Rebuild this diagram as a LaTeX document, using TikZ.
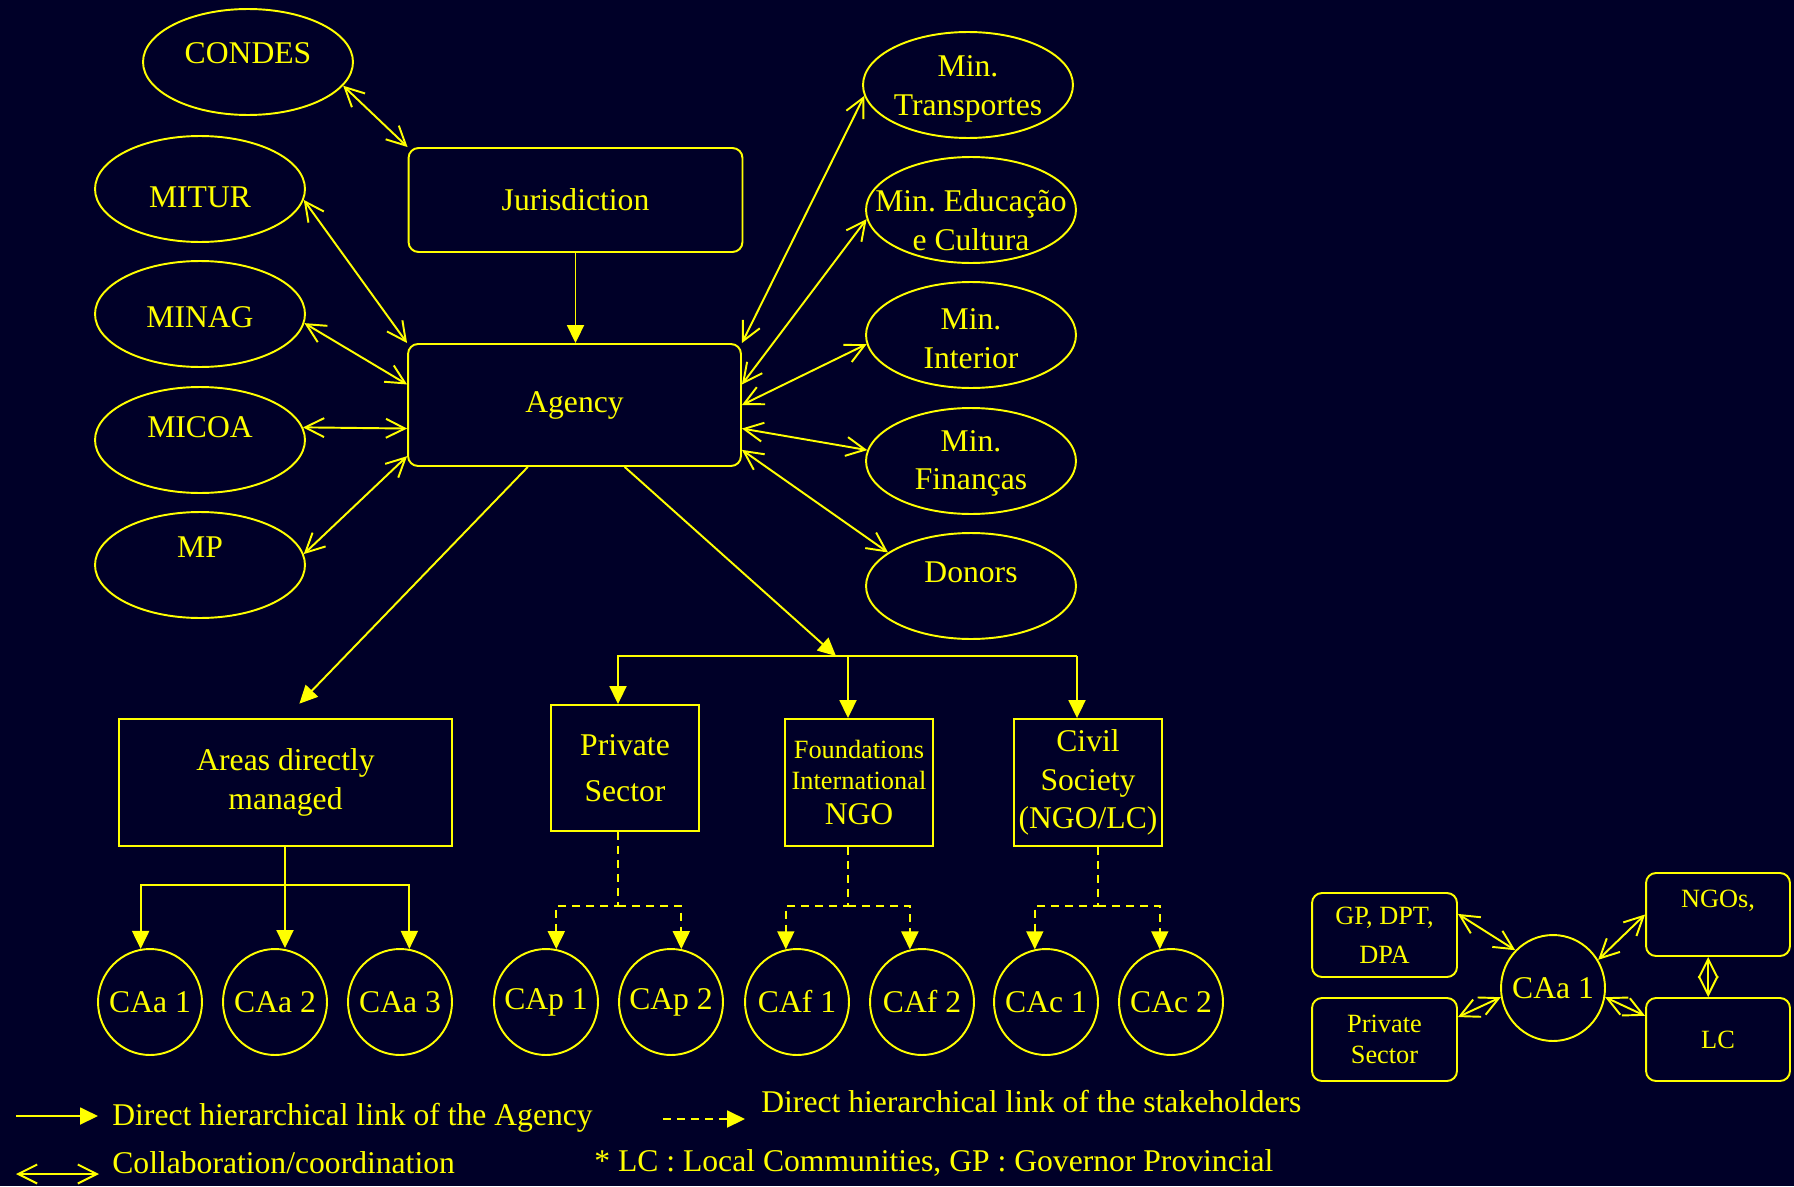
\documentclass[tikz,border=0pt]{standalone}
\usepackage{fontspec}
\setmainfont{Liberation Serif}
\usetikzlibrary{shapes.geometric, arrows.meta, positioning}

\definecolor{slidebg}{RGB}{0,0,40}
\definecolor{slideyellow}{RGB}{255,255,0}
\newcommand\bigsz{\fontsize{18}{22}\selectfont}
\newcommand\smallsz{\fontsize{15}{18}\selectfont}
\frenchspacing

\begin{document}
\begin{tikzpicture}[x=0.02cm, y=-0.02cm]
  \tikzset{
    base/.style={
      draw=slideyellow,
      line width=1.1pt,
      text=slideyellow,
      inner sep=0pt,
      font=\bigsz,
      align=center,
    },
    round box/.style={base, rectangle, rounded corners=0.2cm}, % Adjust the value to change the border radius
    plain box/.style={base, rectangle},
    ministry/.style={base, ellipse, minimum width=4.2cm, minimum height=2.12cm},
    ca/.style={base, ellipse, minimum width=2.08cm, minimum height=2.12cm},
    lbl/.style={text=slideyellow, font=\bigsz, align=center, inner sep=0pt},
    hier/.style={draw=slideyellow, line width=1.1pt, -{Triangle[length=3.6mm, width=3.4mm]}},
    stake/.style={hier, dash pattern=on 0.16cm off 0.12cm},
    collab/.style={draw=slideyellow, line width=1.1pt,
      {Straight Barb[length=3.8mm, width=3.8mm]}-{Straight Barb[length=3.8mm, width=3.8mm]}},
  }

  \useasboundingbox (0,0) rectangle (1794,1186);
  \fill[slidebg] (0,0) rectangle (1794,1186);

  % left ministries
  \node[ministry, label={[lbl, yshift=0.18cm]center:CONDES}] (condes) at (248,62) {};
  \node[ministry, label={[lbl, yshift=-0.16cm]center:MITUR}] (mitur) at (200,189) {};
  \node[ministry, label={[lbl, yshift=-0.06cm]center:MINAG}] (minag) at (200,314) {};
  \node[ministry, label={[lbl, yshift=0.25cm]center:MICOA}] (micoa) at (200,440) {};
  \node[ministry, label={[lbl, yshift=0.36cm]center:MP}] (mp) at (200,565) {};

  \node[round box, minimum width=6.68cm, minimum height=2.08cm] (jur) at (575.5,200) {Jurisdiction};
  \node[round box, minimum width=6.66cm, minimum height=2.44cm] (agency) at (574.5,405) {Agency};

  % right ministries
  \node[ministry, label={[lbl, yshift=-0.08cm]center:{Min.\\Transportes}}] (transp) at (968,85) {};
  \node[ministry, label={[lbl, yshift=-0.2cm]center:{Min. Educação\\e Cultura}}] (educ) at (971,210) {};
  \node[ministry, label={[lbl, yshift=-0.07cm]center:{Min.\\Interior}}] (inter) at (971,335) {};
  \node[ministry, label={[lbl, yshift=-0.05cm]center:{Min.\\Finanças}}] (financ) at (971,461) {};
  \node[ministry, label={[lbl, yshift=0.28cm]center:Donors}] (donors) at (971,586) {};

  % stakeholders
  \node[plain box, minimum width=6.66cm, minimum height=2.54cm] (areas) at (285.5,782.5) {Areas directly\\managed};
  \node[plain box, minimum width=2.96cm, minimum height=2.52cm] (priv) at (625,768) {Private\\[4pt]Sector};
  \node[plain box, minimum width=2.96cm, minimum height=2.54cm] (found) at (859,782.5)
    {\smallsz Foundations\\[-4.5pt]\smallsz International\\[-2pt]NGO};
  \node[plain box, minimum width=2.96cm, minimum height=2.54cm] (civil) at (1088,782.5) {Civil\\Society\\(NGO/LC)};

  \node[ca, label={[lbl]center:CAa 1}] (caa1) at (150,1002) {};
  \node[ca, label={[lbl]center:CAa 2}] (caa2) at (275,1002) {};
  \node[ca, label={[lbl]center:CAa 3}] (caa3) at (400,1002) {};
  \node[ca, label={[lbl]center:CAp 1}] (cap1) at (546,1002) {};
  \node[ca, label={[lbl]center:CAp 2}] (cap2) at (671,1002) {};
  \node[ca, label={[lbl]center:CAf 1}] (caf1) at (797,1002) {};
  \node[ca, label={[lbl]center:CAf 2}] (caf2) at (922,1002) {};
  \node[ca, label={[lbl]center:CAc 1}] (cac1) at (1046,1002) {};
  \node[ca, label={[lbl]center:CAc 2}] (cac2) at (1171,1002) {};

  % small scheme on the right
  \node[round box, font=\smallsz, minimum width=2.9cm, minimum height=1.68cm] (gp) at (1384.5,935) {GP, DPT,\\[4pt]DPA};
  \node[round box, font=\smallsz, minimum width=2.9cm, minimum height=1.66cm] (psi) at (1384.5,1039.5) {Private\\Sector};
  \node[ca, label={[lbl]center:CAa 1}] (cai) at (1553,988) {};
  \node[round box, font=\smallsz, minimum width=2.88cm, minimum height=1.66cm] (ngo) at (1718,914.5) {NGOs,\\~};
  \node[round box, font=\smallsz, minimum width=2.88cm, minimum height=1.66cm] (lc) at (1718,1039.5) {LC};

  % collaboration
  \draw[collab] (condes.-14) -- (jur.north west);
  \draw[collab] (mitur.-6) -- (agency.north west);
  \draw[collab] (minag.-5) -- (agency.173.5);
  \draw[collab] (micoa.7) -- (agency.-172);
  \draw[collab] (mp.6) -- (agency.-163);
  \draw[collab] (transp.-174) -- (agency.north east);
  \draw[collab] (educ.-175) -- (agency.7);
  \draw[collab] (inter.-175) -- (agency.east);
  \draw[collab] (financ.174.5) -- (agency.-8);
  \draw[collab] (donors.158.6) -- (agency.-15);

  % hierarchy
  \draw[hier] (jur.south) -- (jur.south |- agency.north);
  \draw[hier, shorten >=0.4cm] (agency.-127) -- (areas.north);

  \coordinate (busl) at (618,656);
  \coordinate (busm) at (848,656);
  \coordinate (busr) at (1077,656);
  \coordinate (bushit) at (836,656);
  \draw[hier] (agency.-51.5) -- (bushit);
  \draw[hier] (busr) -- (busl) -- (busl |- priv.north);
  \draw[hier] (busm) -- (busm |- found.north);
  \draw[hier] (busr) -- (busr |- civil.north);

  \coordinate (abus) at (285,885);
  \draw[hier] (abus |- areas.south) -- (abus |- caa2.north);
  \draw[hier] (abus) -| (caa1.100);
  \draw[hier] (abus) -| (caa3.80);

  \coordinate (pbus) at (618,906);
  \coordinate (fbus) at (848,906);
  \coordinate (cbus) at (1098,906);
  \draw[stake] (priv.south -| pbus) -- (pbus) -| (cap1.79);
  \draw[stake] (pbus) -| (cap2.79);
  \draw[stake] (found.south -| fbus) -- (fbus) -| (caf1.102);
  \draw[stake] (fbus) -| (caf2.103);
  \draw[stake] (civil.south -| cbus) -- (cbus) -| (cac1.102);
  \draw[stake] (cbus) -| (cac2.102);

  \draw[collab] (gp.16) -- (cai.135);
  \draw[collab] (psi.17) -- (cai.-170);
  \draw[collab] (ngo.west) -- (cai.32);
  \draw[collab] (lc.162.6) -- (cai.-10);
  \draw[collab] (ngo.-103.5) -- (lc.103.5);

  % legend
  \coordinate (lg1a) at (16,1116);
  \coordinate (lg1b) at (98,1116);
  \coordinate (lg2a) at (16,1174);
  \coordinate (lg2b) at (99,1174);
  \coordinate (lg3a) at (663,1119);
  \coordinate (lg3b) at (745,1119);
  \draw[hier] (lg1a) -- (lg1b);
  \draw[collab] (lg2a) -- (lg2b);
  \draw[stake] (lg3a) -- (lg3b);
  \node[lbl, anchor=west] (lgt1) at (112,1118) {Direct hierarchical link of the Agency};
  \node[lbl, anchor=west] (lgt2) at (112,1163) {Collaboration/coordination};
  \node[lbl, anchor=west] (lgt3) at (761,1102) {Direct hierarchical link of the stakeholders};
  \node[lbl, anchor=west] (lgt4) at (594,1163) {* LC : Local Communities, GP : Governor Provincial};
\end{tikzpicture}
\end{document}
